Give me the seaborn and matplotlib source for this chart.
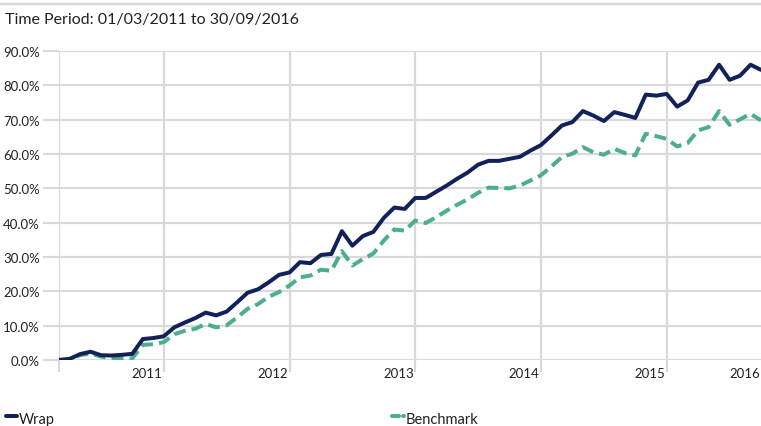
import matplotlib
matplotlib.use("Agg")
import matplotlib.pyplot as plt
import seaborn as sns
import pandas as pd
import numpy as np
from matplotlib.lines import Line2D
from matplotlib.ticker import FixedLocator, FuncFormatter

# ---- data (cumulative return, %) ----
wrap = [0.0, 0.3, 1.7, 2.4, 1.4, 1.3, 1.5, 1.8, 6.1, 6.4,
        6.9, 9.5, 10.9, 12.2, 13.8, 13.0, 14.1, 16.8, 19.6, 20.6,
        22.6, 24.8, 25.5, 28.5, 28.2, 30.6, 30.9, 37.5, 33.3, 36.1,
        37.3, 41.4, 44.4, 44.0, 47.2, 47.2, 49.0, 50.8, 52.8, 54.6,
        56.9, 58.0, 58.0, 58.6, 59.2, 61.0, 62.6, 65.4, 68.3, 69.3,
        72.5, 71.2, 69.6, 72.2, 71.4, 70.5, 77.3, 77.0, 77.5, 73.8,
        75.6, 80.8, 81.6, 86.0, 81.6, 82.8, 86.0, 84.5]
benchmark = [0.0, 0.3, 1.4, 1.9, 1.0, 0.5, 0.4, 0.5, 4.4, 4.6,
             5.2, 7.5, 8.5, 9.1, 10.5, 9.5, 10.1, 12.4, 14.9, 16.3,
             18.4, 19.8, 21.7, 24.1, 24.6, 26.3, 26.0, 31.7, 27.5, 29.4,
             31.0, 34.8, 38.0, 37.7, 40.6, 39.9, 41.6, 43.5, 45.2, 46.8,
             48.7, 50.2, 50.1, 50.0, 50.8, 52.3, 53.8, 56.4, 59.1, 60.1,
             62.0, 60.5, 59.8, 61.5, 60.3, 59.6, 65.9, 65.2, 64.4, 62.2,
             63.2, 66.9, 67.8, 72.5, 68.5, 70.1, 71.7, 69.8]
year_labels = ["2011", "2012", "2013", "2014", "2015", "2016"]
year_label_pos = [8.4, 20.4, 32.4, 44.4, 56.4, 65.5]
year_grid_pos = [0, 10, 22, 34, 46, 58]
y_ticks = [0, 10, 20, 30, 40, 50, 60, 70, 80, 90]
title = "Time Period: 01/03/2011 to 30/09/2016"

NAVY = "#13215a"
GREEN = "#4cae8a"
GRID = "#d9d9d9"
PX = 72 / 100  # points per pixel at 100 dpi

sns.set_theme(style="white")
plt.rcParams['font.family'] = ['Lato', 'DejaVu Sans']

df = pd.DataFrame({"month": np.arange(len(wrap)), "Wrap": wrap, "Benchmark": benchmark})

fig = plt.figure(figsize=(7.61, 4.27), dpi=100)
ax = fig.add_axes([59 / 761, (427 - 361) / 427, (761 - 59) / 761, (361 - 52) / 427])

sns.lineplot(data=df, x="month", y="Benchmark", ax=ax, color=GREEN, lw=4 * PX,
             linestyle=(0, (3.0, 1.5)), zorder=3)
sns.lineplot(data=df, x="month", y="Wrap", ax=ax, color=NAVY, lw=4 * PX, zorder=4)

ax.set_xlim(0, len(wrap) - 1)
ax.set_ylim(0, 90)
for s in ax.spines.values():
    s.set_visible(False)

ax.yaxis.set_major_locator(FixedLocator(y_ticks))
ax.yaxis.set_major_formatter(FuncFormatter(lambda v, p: f"{v:.1f}%"))
ax.grid(axis="y", color=GRID, lw=2.2 * PX, zorder=0)
ax.tick_params(axis="y", length=16 * PX, width=2.2 * PX, color=GRID, pad=3 * PX,
               labelsize=9.5, labelcolor="#222222", left=True)

ax.xaxis.set_major_locator(FixedLocator(year_grid_pos))
ax.xaxis.set_major_formatter(FuncFormatter(lambda v, p: ""))
ax.xaxis.set_minor_locator(FixedLocator(year_label_pos))
ax.set_xticklabels(year_labels, minor=True)
ax.grid(axis="x", which="major", color=GRID, lw=2.2 * PX, zorder=0)
ax.tick_params(axis="x", which="major", length=12 * PX, width=2.2 * PX, color=GRID, bottom=True)
ax.tick_params(axis="x", which="minor", length=0, pad=7 * PX, labelsize=9.5,
               labelcolor="#222222", bottom=True)
ax.set_xlabel("")
ax.set_ylabel("")

# title and separator
fig.text(5 / 761, 1 - 20 / 427, title, fontsize=11.5, color="#222222", va="center", ha="left")
fig.add_artist(Line2D([0, 1], [1 - 5 / 427, 1 - 5 / 427], color=GRID, lw=2.5 * PX,
                      transform=fig.transFigure))

# legend
fig.add_artist(Line2D([6 / 761, 17 / 761], [1 - 417 / 427] * 2, color=NAVY, lw=4 * PX,
                      transform=fig.transFigure))
fig.text(19 / 761, 1 - 420 / 427, "Wrap", fontsize=10.5, color="#222222", va="center", ha="left")
fig.add_artist(Line2D([392 / 761, 399 / 761], [1 - 417 / 427] * 2, color=GREEN, lw=4 * PX,
                      transform=fig.transFigure))
fig.add_artist(Line2D([403 / 761, 404 / 761], [1 - 417 / 427] * 2, color=GREEN, lw=4 * PX,
                      transform=fig.transFigure))
fig.text(406 / 761, 1 - 420 / 427, "Benchmark", fontsize=10.5, color="#222222", va="center", ha="left")

fig.savefig("out.png", dpi=100)
